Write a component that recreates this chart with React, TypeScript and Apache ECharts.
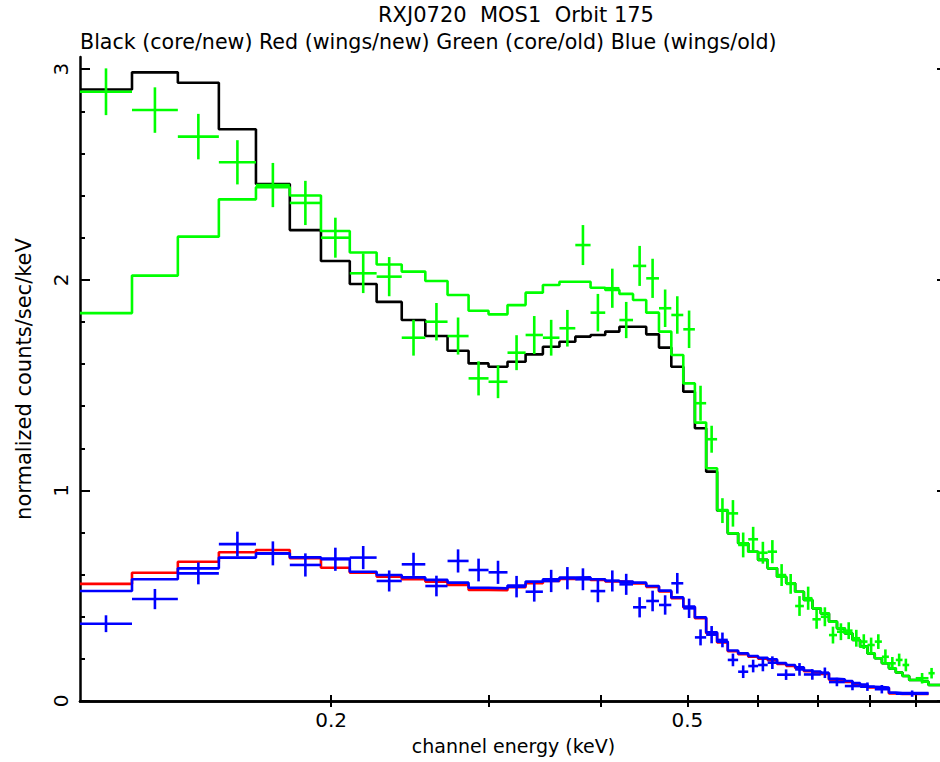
import React, { useEffect, useRef } from "react";
import * as echarts from "echarts";

// ---------- axis ranges & ticks ----------
const X_MIN = 0.1048;
const X_MAX = 0.9752;
const Y_MIN = 0;
const Y_MAX = 3.058;
const X_TICKS = [0.2, 0.3, 0.4, 0.5, 0.6, 0.7, 0.8, 0.9];
const X_LABELS = [0.2, 0.5];
const Y_MAJOR = [0, 1, 2, 3];
const Y_MINOR = [0.2, 0.4, 0.6, 0.8, 1.2, 1.4, 1.6, 1.8, 2.2, 2.4, 2.6, 2.8];

// ---------- channel bin edges (keV) ----------
const EDGES = [
  0.1048, 0.1198, 0.1348, 0.1498, 0.1648, 0.1798, 0.1948, 0.2098, 0.2248, 0.2398,
  0.2548, 0.2698, 0.2848, 0.2998, 0.3148, 0.3298, 0.3448, 0.3598, 0.3748, 0.3898,
  0.4048, 0.4198, 0.4348, 0.4498, 0.4648, 0.4798, 0.4948, 0.5098, 0.5248, 0.5398,
  0.5548, 0.5698, 0.5848, 0.5998, 0.6148, 0.6298, 0.6448, 0.6598, 0.6748, 0.6898,
  0.7048, 0.7198, 0.7348, 0.7498, 0.7648, 0.7798, 0.7948, 0.8098, 0.8248, 0.8398,
  0.8548, 0.8698, 0.8848, 0.8998, 0.9148, 0.9298, 0.9448, 0.9598,
];

// ---------- model histograms (one value per bin) ----------
const BLACK_MODEL = [
  2.904, 2.985, 2.936, 2.715, 2.455, 2.236, 2.089, 1.98, 1.895, 1.809,
  1.733, 1.663, 1.603, 1.587, 1.611, 1.646, 1.682, 1.706, 1.73, 1.738,
  1.754, 1.777, 1.777, 1.741, 1.678, 1.587, 1.469, 1.295, 1.089, 0.904,
  0.796, 0.749, 0.709, 0.67, 0.63, 0.59, 0.559, 0.519, 0.48, 0.44,
  0.416, 0.377, 0.345, 0.321, 0.29, 0.258, 0.226, 0.203, 0.179, 0.155,
  0.135, 0.119, 0.1, 0.1, 0.092, 0.076, 0.076,
];
const GREEN_MODEL = [
  1.842, 2.02, 2.205, 2.382, 2.44, 2.4, 2.232, 2.13, 2.073, 2.039,
  1.994, 1.928, 1.853, 1.836, 1.88, 1.939, 1.975, 1.991, 1.991, 1.962,
  1.952, 1.933, 1.904, 1.844, 1.754, 1.643, 1.508, 1.322, 1.105, 0.907,
  0.796, 0.749, 0.709, 0.67, 0.63, 0.59, 0.559, 0.519, 0.48, 0.44,
  0.416, 0.377, 0.345, 0.321, 0.29, 0.258, 0.226, 0.203, 0.179, 0.155,
  0.135, 0.119, 0.1, 0.1, 0.092, 0.076, 0.076,
];
const RED_MODEL = [
  0.556, 0.609, 0.661, 0.706, 0.717, 0.678, 0.633, 0.609, 0.59, 0.578,
  0.567, 0.551, 0.527, 0.526, 0.54, 0.559, 0.57, 0.58, 0.583, 0.575,
  0.568, 0.565, 0.558, 0.542, 0.52, 0.488, 0.444, 0.393, 0.322, 0.278,
  0.236, 0.222, 0.21, 0.201, 0.194, 0.176, 0.167, 0.156, 0.141, 0.136,
  0.129, 0.101, 0.099, 0.091, 0.081, 0.074, 0.064, 0.062, 0.06, 0.036,
  0.034, 0.034, 0.034, 0.034, 0.034,
];
const BLUE_MODEL = [
  0.522, 0.578, 0.63, 0.681, 0.701, 0.682, 0.676, 0.614, 0.598, 0.587,
  0.575, 0.562, 0.538, 0.535, 0.548, 0.567, 0.578, 0.586, 0.587, 0.578,
  0.571, 0.567, 0.562, 0.546, 0.524, 0.492, 0.448, 0.397, 0.326, 0.282,
  0.24, 0.226, 0.214, 0.205, 0.198, 0.18, 0.171, 0.16, 0.145, 0.14,
  0.133, 0.105, 0.103, 0.095, 0.085, 0.078, 0.068, 0.066, 0.064, 0.04,
  0.038, 0.038, 0.038, 0.038, 0.038,
];

// ---------- green data (core/old) ----------
const GREEN_LO = [
  0.1048, 0.1198, 0.1348, 0.1498, 0.1648, 0.1798, 0.1948, 0.2098, 0.2248, 0.2398,
  0.2548, 0.2698, 0.2848, 0.2998, 0.3148, 0.3298, 0.3448, 0.3598, 0.3748, 0.3898,
  0.4048, 0.4198, 0.4348, 0.4498, 0.4648, 0.4798, 0.4948, 0.5098, 0.5248, 0.5398,
  0.5548, 0.5698, 0.5848, 0.5998, 0.6148, 0.6298, 0.6448, 0.6598, 0.6748, 0.6898,
  0.7048, 0.7198, 0.7348, 0.7498, 0.7648, 0.7798, 0.7948, 0.8098, 0.8248, 0.8398,
  0.8548, 0.8698, 0.8998, 0.9298,
];
const GREEN_HI = [
  0.1198, 0.1348, 0.1498, 0.1648, 0.1798, 0.1948, 0.2098, 0.2248, 0.2398, 0.2548,
  0.2698, 0.2848, 0.2998, 0.3148, 0.3298, 0.3448, 0.3598, 0.3748, 0.3898, 0.4048,
  0.4198, 0.4348, 0.4498, 0.4648, 0.4798, 0.4948, 0.5098, 0.5248, 0.5398, 0.5548,
  0.5698, 0.5848, 0.5998, 0.6148, 0.6298, 0.6448, 0.6598, 0.6748, 0.6898, 0.7048,
  0.7198, 0.7348, 0.7498, 0.7648, 0.7798, 0.7948, 0.8098, 0.8248, 0.8398, 0.8548,
  0.8698, 0.8848, 0.9298, 0.9448,
];
const GREEN_VAL = [
  2.893, 2.806, 2.68, 2.558, 2.45, 2.365, 2.2, 2.031, 2.015, 1.725,
  1.801, 1.733, 1.532, 1.516, 1.654, 1.738, 1.725, 1.77, 2.165, 1.844,
  1.96, 1.809, 2.066, 2.007, 1.865, 1.833, 1.765, 1.414, 1.243, 0.904,
  0.891, 0.741, 0.768, 0.704, 0.709, 0.598, 0.556, 0.451, 0.488, 0.388,
  0.4, 0.313, 0.329, 0.334, 0.298, 0.282, 0.266, 0.282, 0.21, 0.179,
  0.195, 0.171, 0.108, 0.132,
];
const GREEN_ERR = [
  0.111, 0.108, 0.108, 0.105, 0.105, 0.105, 0.095, 0.094, 0.093, 0.085,
  0.089, 0.088, 0.081, 0.078, 0.083, 0.09, 0.085, 0.087, 0.095, 0.089,
  0.093, 0.086, 0.095, 0.093, 0.089, 0.089, 0.089, 0.083, 0.064, 0.059,
  0.063, 0.059, 0.059, 0.052, 0.055, 0.052, 0.047, 0.047, 0.055, 0.045,
  0.045, 0.04, 0.04, 0.04, 0.04, 0.035, 0.035, 0.035, 0.035, 0.03,
  0.03, 0.03, 0.025, 0.025,
];

// ---------- blue data (wings/old) ----------
const BLUE_LO = [
  0.1048, 0.1198, 0.1348, 0.1498, 0.1648, 0.1798, 0.1948, 0.2098, 0.2248, 0.2398,
  0.2548, 0.2698, 0.2848, 0.2998, 0.3148, 0.3298, 0.3448, 0.3598, 0.3748, 0.3898,
  0.4048, 0.4198, 0.4348, 0.4498, 0.4648, 0.4798, 0.4948, 0.5098, 0.5248, 0.5398,
  0.5548, 0.5698, 0.5848, 0.5998, 0.6148, 0.6298, 0.6598, 0.6748, 0.7048, 0.7198,
  0.7498, 0.7798, 0.8098, 0.8548,
];
const BLUE_HI = [
  0.1198, 0.1348, 0.1498, 0.1648, 0.1798, 0.1948, 0.2098, 0.2248, 0.2398, 0.2548,
  0.2698, 0.2848, 0.2998, 0.3148, 0.3298, 0.3448, 0.3598, 0.3748, 0.3898, 0.4048,
  0.4198, 0.4348, 0.4498, 0.4648, 0.4798, 0.4948, 0.5098, 0.5248, 0.5398, 0.5548,
  0.5698, 0.5848, 0.5998, 0.6148, 0.6298, 0.6598, 0.6748, 0.7048, 0.7198, 0.7498,
  0.7798, 0.8098, 0.8398, 0.9298,
];
const BLUE_VAL = [
  0.367, 0.484, 0.606, 0.745, 0.701, 0.646, 0.673, 0.681, 0.57, 0.649,
  0.546, 0.665, 0.622, 0.611, 0.543, 0.519, 0.57, 0.583, 0.578, 0.522,
  0.57, 0.554, 0.445, 0.475, 0.456, 0.559, 0.44, 0.302, 0.315, 0.29,
  0.195, 0.139, 0.166, 0.171, 0.182, 0.125, 0.15, 0.126, 0.134, 0.09,
  0.071, 0.068, 0.056, 0.035,
];
const BLUE_ERR = [
  0.04, 0.048, 0.052, 0.059, 0.057, 0.055, 0.055, 0.055, 0.05, 0.055,
  0.049, 0.055, 0.054, 0.055, 0.051, 0.047, 0.053, 0.053, 0.052, 0.053,
  0.05, 0.05, 0.048, 0.049, 0.046, 0.049, 0.046, 0.038, 0.041, 0.035,
  0.03, 0.03, 0.03, 0.03, 0.03, 0.025, 0.03, 0.025, 0.025, 0.02,
  0.02, 0.02, 0.02, 0.015,
];

const TITLE = "RXJ0720  MOS1  Orbit 175";
const SUBTITLE = "Black (core/new) Red (wings/new) Green (core/old) Blue (wings/old)";
const X_NAME = "channel energy (keV)";
const Y_NAME = "normalized counts/sec/keV";

const FONT = "DejaVu Sans";
const LW = 2.6;

function stepData(values: number[]) {
  const pts: number[][] = values.map((v, i) => [EDGES[i], v]);
  pts.push([EDGES[values.length], values[values.length - 1]]);
  return pts;
}

function crossData(lo: number[], hi: number[], val: number[], err: number[]) {
  return val.map((v, i) => [Math.sqrt(lo[i] * hi[i]), v, lo[i], hi[i], err[i]]);
}

function crossSeries(name: string, color: string, data: number[][]) {
  return {
    name,
    type: "custom",
    xAxisIndex: 0,
    yAxisIndex: 0,
    encode: { x: 0, y: 1 },
    data,
    z: 5,
    renderItem: (_params: any, api: any) => {
      const xc = api.value(0);
      const y = api.value(1);
      const lo = api.value(2);
      const hi = api.value(3);
      const e = api.value(4);
      const pL = api.coord([lo, y]);
      const pR = api.coord([hi, y]);
      const pT = api.coord([xc, y + e]);
      const pB = api.coord([xc, y - e]);
      const style = { stroke: color, lineWidth: LW };
      return {
        type: "group",
        children: [
          { type: "line", shape: { x1: pL[0], y1: pL[1], x2: pR[0], y2: pR[1] }, style },
          { type: "line", shape: { x1: pT[0], y1: pT[1], x2: pB[0], y2: pB[1] }, style },
        ],
      };
    },
  };
}

function lineSeries(name: string, color: string, values: number[], z: number) {
  return {
    name,
    type: "line",
    xAxisIndex: 0,
    yAxisIndex: 0,
    step: "end",
    symbol: "none",
    data: stepData(values),
    z,
    lineStyle: { color, width: LW },
    itemStyle: { color },
  };
}

export default function App() {
  const ref = useRef<HTMLDivElement>(null);
  useEffect(() => {
    if (!ref.current) return;
    const chart = echarts.init(ref.current, undefined, { renderer: "svg" });
    const axisLine = { show: true, lineStyle: { color: "#000", width: 2.5 } };
    const tickStyle = { color: "#000", width: 2 };
    const baseX = {
      type: "log",
      logBase: 10,
      min: X_MIN,
      max: X_MAX,
      splitLine: { show: false },
      axisLine,
    };
    const baseY = {
      type: "value",
      min: Y_MIN,
      max: Y_MAX,
      splitLine: { show: false },
    };
    const option: any = {
      animation: false,
      backgroundColor: "#fff",
      title: [
        {
          text: TITLE,
          left: 378,
          top: 4,
          padding: 0,
          textStyle: { fontFamily: FONT, fontSize: 21, fontWeight: "normal", color: "#000" },
        },
        {
          text: SUBTITLE,
          left: 80,
          top: 31,
          padding: 0,
          textStyle: { fontFamily: FONT, fontSize: 20.6, fontWeight: "normal", color: "#000" },
        },
      ],
      grid: { left: 80, right: -7, top: 57, bottom: 61, containLabel: false, outerBoundsMode: "none" },
      xAxis: [
        {
          ...baseX,
          position: "bottom",
          name: X_NAME,
          nameLocation: "middle",
          nameGap: 35,
          nameTextStyle: { fontFamily: FONT, fontSize: 19, color: "#000" },
          axisTick: { show: true, inside: true, length: 6, lineStyle: tickStyle, customValues: X_TICKS },
          axisLabel: {
            show: true,
            customValues: X_LABELS,
            formatter: (v: number) => (+v).toFixed(1),
            fontFamily: FONT,
            fontSize: 20,
            color: "#000",
            margin: 9,
          },
        },
        {
          ...baseX,
          position: "top",
          axisTick: { show: true, inside: true, length: 6, lineStyle: tickStyle, customValues: X_TICKS },
          axisLabel: { show: false },
        },
      ],
      yAxis: [
        {
          ...baseY,
          position: "left",
          axisLine,
          name: Y_NAME,
          nameLocation: "middle",
          nameGap: 46,
          nameTextStyle: { fontFamily: FONT, fontSize: 21, color: "#000" },
          axisTick: { show: true, inside: true, length: 10, lineStyle: tickStyle, customValues: Y_MAJOR },
          axisLabel: {
            show: true,
            customValues: Y_MAJOR,
            rotate: 90,
            fontFamily: FONT,
            fontSize: 20,
            color: "#000",
            margin: 9,
          },
        },
        {
          ...baseY,
          position: "left",
          axisLine: { show: false },
          axisTick: { show: true, inside: true, length: 5, lineStyle: tickStyle, customValues: Y_MINOR },
          axisLabel: { show: false },
        },
        {
          ...baseY,
          position: "right",
          axisLine,
          axisTick: { show: true, inside: true, length: 10, lineStyle: tickStyle, customValues: Y_MAJOR },
          axisLabel: { show: false },
        },
        {
          ...baseY,
          position: "right",
          axisLine: { show: false },
          axisTick: { show: true, inside: true, length: 5, lineStyle: tickStyle, customValues: Y_MINOR },
          axisLabel: { show: false },
        },
      ],
      series: [
        lineSeries("Black (core/new)", "#000000", BLACK_MODEL, 2),
        lineSeries("Red (wings/new)", "#ff0000", RED_MODEL, 2),
        lineSeries("Green (core/old) model", "#00ff00", GREEN_MODEL, 3),
        lineSeries("Blue (wings/old) model", "#0000ff", BLUE_MODEL, 3),
        crossSeries("Green (core/old)", "#00ff00", crossData(GREEN_LO, GREEN_HI, GREEN_VAL, GREEN_ERR)),
        crossSeries("Blue (wings/old)", "#0000ff", crossData(BLUE_LO, BLUE_HI, BLUE_VAL, BLUE_ERR)),
      ],
    };
    chart.setOption(option);
    return () => chart.dispose();
  }, []);
  return (
    <div
      ref={ref}
      style={{ position: "absolute", left: 0, top: 0, width: 940, height: 762, background: "#fff" }}
    />
  );
}
